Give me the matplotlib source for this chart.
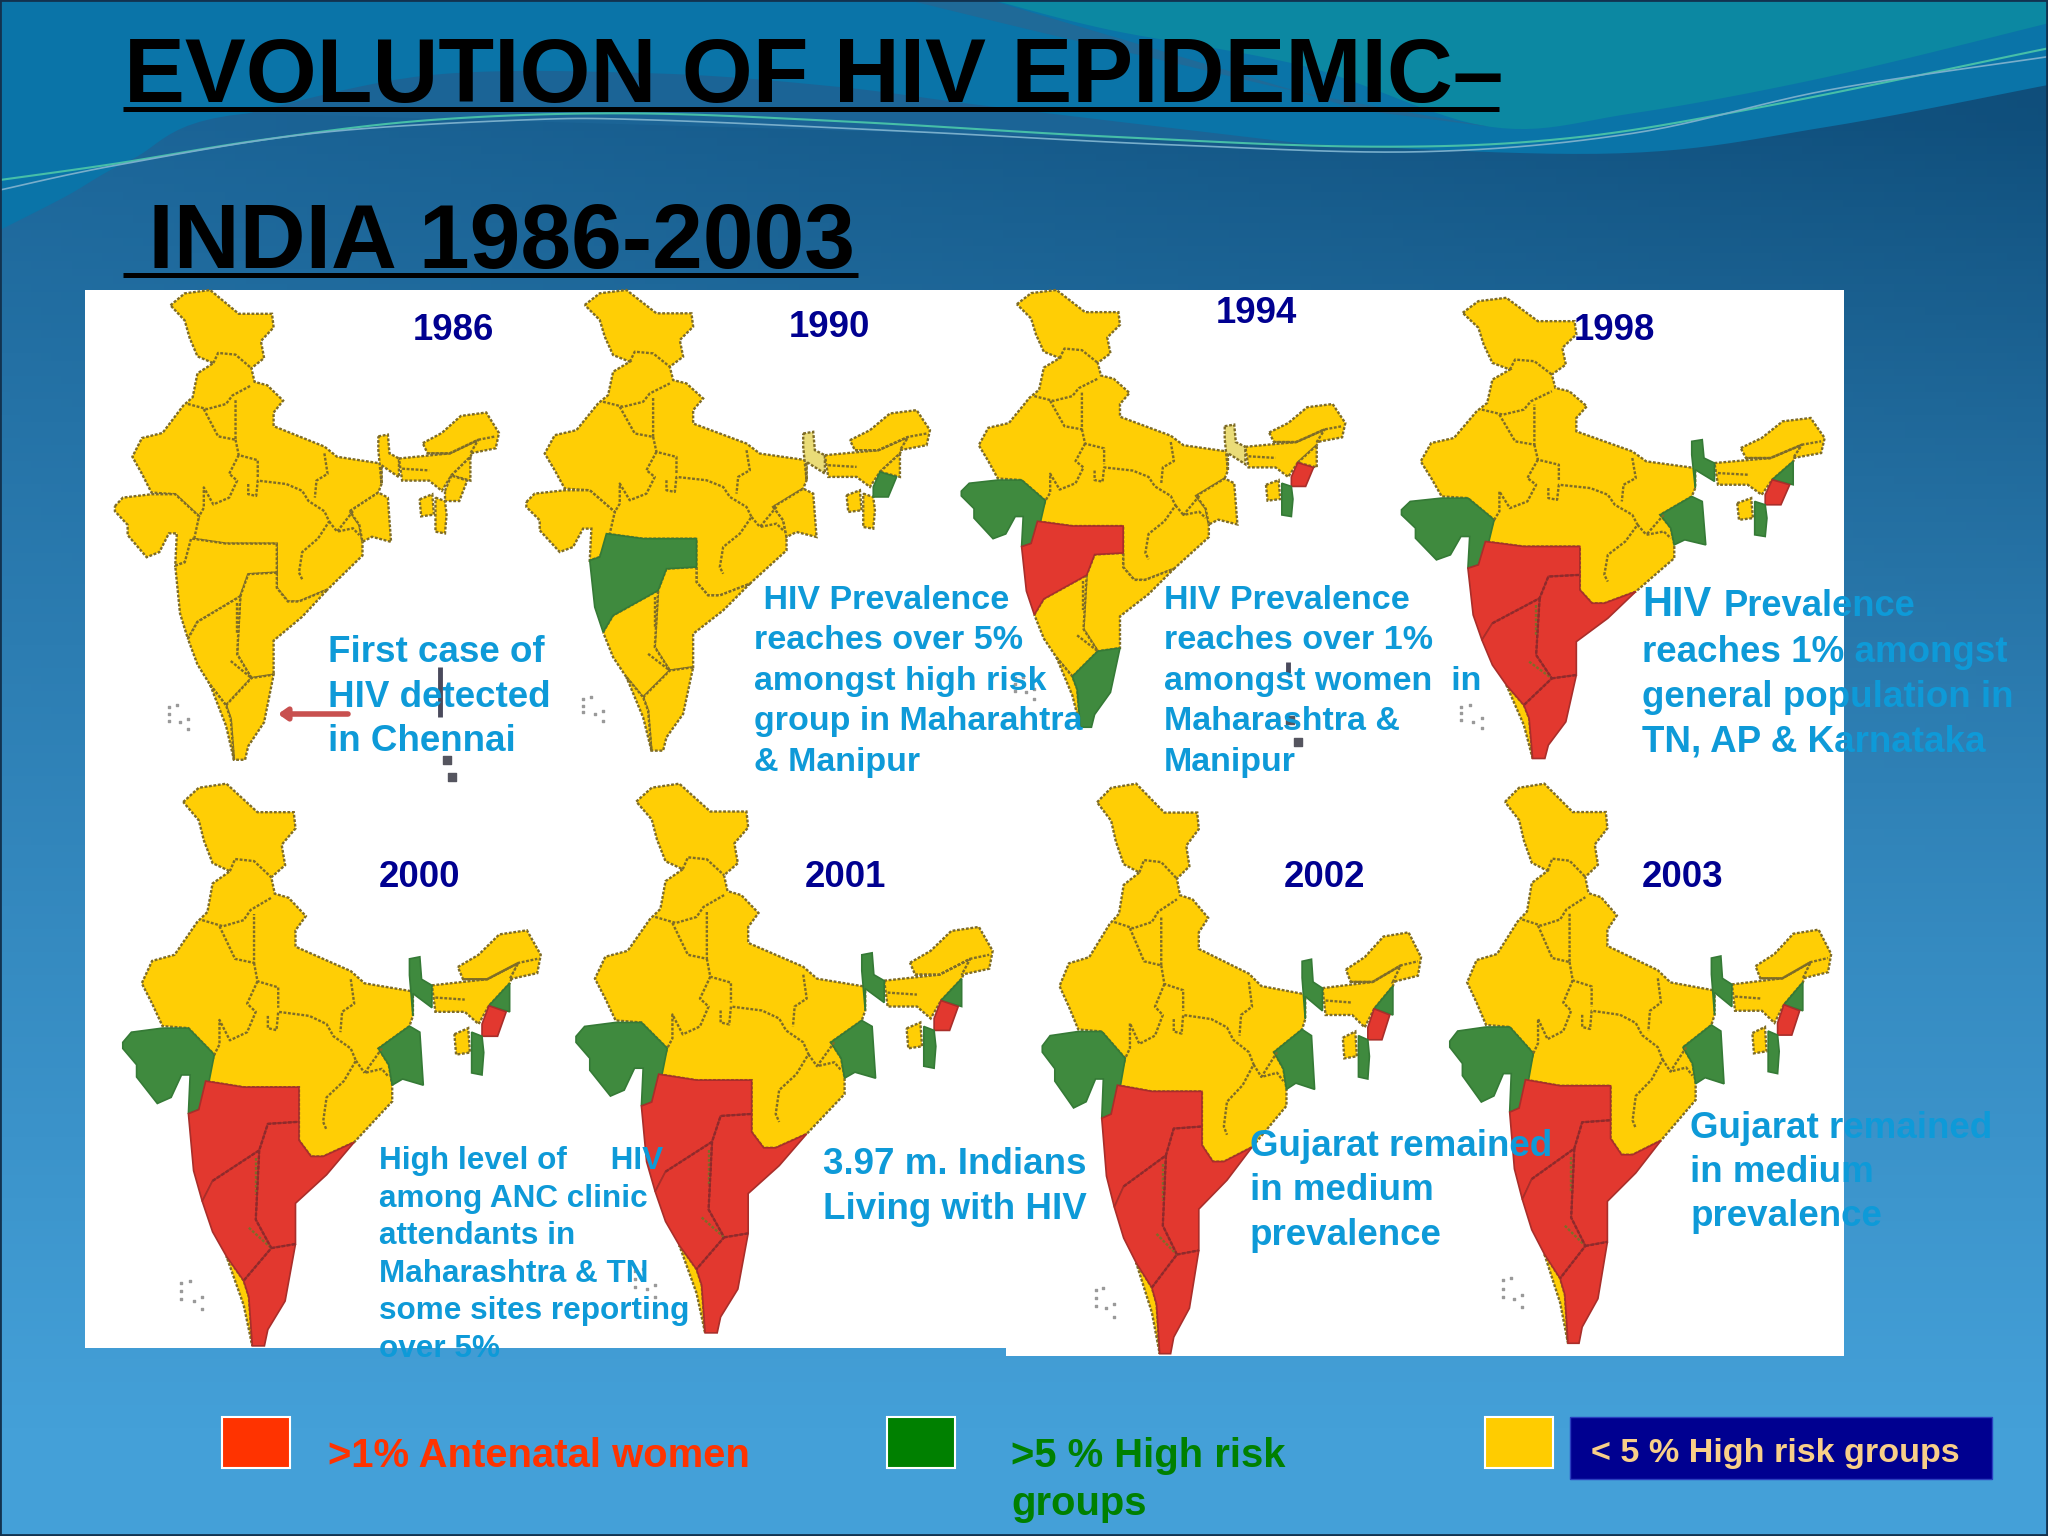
import numpy as np
import matplotlib
matplotlib.use("Agg")
import matplotlib.pyplot as plt
from matplotlib.patches import Polygon, Rectangle

plt.rcParams['font.family'] = ['Liberation Sans', 'DejaVu Sans']

# positions below are in the 1568 wide preview, S brings them to the real image
S = 2048 / 1568

YELLOW = '#FFCE05'
GREEN = '#3F8A3E'
RED = '#E2382F'
TEXT = '#0E9AD8'
NAVY = '#000090'
OUTLINE = '#7E6C28'

years = ['1986', '1990', '1994', '1998', '2000', '2001', '2002', '2003']
year_x = [316, 604, 931, 1205, 290, 616, 983, 1257]
year_y = [260, 258, 247, 260, 679, 679, 679, 679]

# x0, x1, y0, y1 of each map on the slide
map_boxes = [
    (88, 382, 222, 583), (403, 712, 222, 576), (736, 1030, 222, 558), (1073, 1397, 228, 582),
    (94, 414, 600, 1032), (441, 760, 600, 1022), (798, 1088, 600, 1038), (1110, 1402, 600, 1030),
]

region_names = ['north', 'gujarat', 'maharashtra', 'andhra', 'karnataka', 'tamil', 'kerala',
                'bengal', 'corridor', 'assam', 'arunachal', 'nagaland', 'manipur', 'mizoram', 'tripura']

# status of each region: y low, g high risk, r antenatal, p pale yellow
status_1986 = 'yyyyyyyyyyyyyyy'
status_1990 = 'yygyyyyypyyygyy'
status_1994 = 'ygryygyypyyyrgy'
status_1998 = 'ygrrrryggyygrgy'
status_2000 = 'ygrrrryggyygrgy'
status_2001 = 'ygrrrryggyygrgy'
status_2002 = 'ygrrrryggyygrgy'
status_2003 = 'ygrrrryggyygrgy'
statuses = [status_1986, status_1990, status_1994, status_1998,
            status_2000, status_2001, status_2002, status_2003]
status_colors = {'y': YELLOW, 'g': GREEN, 'r': RED, 'p': '#EADC78'}
status_edges = {'g': '#357A36', 'r': '#A92E2A'}

captions = [
    (251, 507, 34, 26.5, ['First case of', 'HIV detected', 'in Chennai']),
    (577, 466, 31, 24.5, [' HIV Prevalence', 'reaches over 5%', 'amongst high risk', 'group in Maharahtra', '& Manipur']),
    (891, 466, 31, 24.5, ['HIV Prevalence', 'reaches over 1%', 'amongst women  in', 'Maharashtra &', 'Manipur']),
    (1257, 507, 34, 26.5, ['reaches 1% amongst', 'general population in', 'TN, AP & Karnataka']),
    (290, 895, 28.8, 22.7, ['High level of     HIV', 'among ANC clinic', 'attendants in', 'Maharashtra & TN', 'some sites reporting', 'over 5%']),
    (630, 899, 34, 26.5, ['3.97 m. Indians', 'Living with HIV']),
    (957, 885, 34, 26.5, ['Gujarat remained', 'in medium', 'prevalence']),
    (1294, 871, 34, 26.5, ['Gujarat remained', 'in medium', 'prevalence']),
]

legend_labels = ['>1% Antenatal women', '>5 % High risk', 'groups', '< 5 % High risk groups']

# outline of the map, traced from the 1990 one
regions = {
    'north': [(195, 75), (240, 40), (320, 30), (410, 100), (515, 100), (520, 140), (480, 180), (490, 230),
              (450, 260), (460, 300), (500, 310), (550, 355), (520, 390), (520, 430), (680, 490), (720, 520),
              (860, 540), (860, 600), (850, 625), (760, 680), (790, 720), (800, 770), (800, 810), (690, 910),
              (600, 945), (565, 945), (530, 905), (530, 775), (370, 775), (260, 760), (285, 695), (210, 630),
              (135, 625), (105, 570), (75, 520), (105, 465), (170, 450), (235, 370), (265, 345), (280, 275),
              (330, 245), (280, 225), (255, 170), (240, 120)],
    'gujarat': [(20, 665), (45, 640), (135, 630), (210, 630), (285, 695), (270, 760), (240, 830), (210, 840),
                (215, 745), (190, 745), (160, 800), (120, 815), (60, 750), (60, 720), (20, 680)],
    'maharashtra': [(210, 840), (240, 830), (260, 760), (370, 775), (530, 775), (530, 860), (440, 865),
                    (415, 930), (280, 1005), (250, 1055), (225, 980)],
    'andhra': [(530, 860), (530, 905), (565, 945), (600, 945), (690, 910), (610, 990), (520, 1060), (520, 1160),
               (450, 1170), (405, 1100), (415, 930), (440, 865)],
    'karnataka': [(250, 1055), (280, 1005), (415, 930), (405, 1100), (450, 1170), (370, 1250), (320, 1190),
                  (280, 1130)],
    'tamil': [(370, 1250), (450, 1170), (520, 1160), (490, 1300), (440, 1370), (430, 1410), (395, 1410),
              (385, 1290)],
    'kerala': [(320, 1190), (370, 1250), (385, 1290), (395, 1410), (370, 1310)],
    'bengal': [(760, 680), (850, 625), (880, 640), (890, 770), (830, 755), (800, 770), (790, 720)],
    'corridor': [(850, 460), (880, 455), (885, 510), (915, 525), (915, 580), (860, 545), (860, 600), (850, 500)],
    'assam': [(915, 525), (1075, 510), (1165, 470), (1140, 520), (1080, 575), (1050, 620), (1010, 590), (925, 590)],
    'arunachal': [(990, 480), (1050, 450), (1110, 400), (1190, 390), (1230, 450), (1220, 495), (1140, 510),
                  (1165, 470), (1075, 510), (1005, 510)],
    'nagaland': [(1080, 575), (1140, 520), (1140, 590)],
    'manipur': [(1060, 620), (1080, 575), (1130, 590), (1105, 650), (1060, 650)],
    'mizoram': [(1030, 640), (1060, 650), (1065, 690), (1060, 745), (1030, 740)],
    'tripura': [(980, 645), (1020, 630), (1025, 690), (985, 695)],
}

borders = [
    [(330, 245), (345, 215), (400, 220), (450, 260)],
    [(250, 365), (310, 380), (370, 365), (390, 340), (450, 310)],
    [(300, 380), (345, 460), (400, 470), (400, 350)],
    [(400, 470), (410, 515), (470, 530), (470, 580)],
    [(410, 515), (380, 570), (405, 590), (380, 640), (330, 660), (300, 610), (300, 670), (285, 695)],
    [(440, 600), (440, 630), (465, 635), (470, 590), (560, 600), (610, 620), (630, 650), (680, 680), (695, 710),
     (660, 760), (610, 800), (600, 860), (610, 880)],
    [(680, 510), (690, 570), (655, 590), (650, 640)],
    [(770, 680), (720, 740), (770, 730), (790, 750)],
    [(695, 710), (720, 740)],
    [(405, 950), (405, 1040)],
    [(385, 1120), (450, 1170)],
    [(1005, 510), (1075, 510), (1165, 470), (1220, 460)],
    [(925, 555), (1010, 560)],
]

# darker state lines on the red part of the later maps
south_borders = [
    [(280, 1005), (415, 930), (440, 865), (530, 860)],
    [(415, 930), (405, 1100), (450, 1170), (370, 1250)],
    [(450, 1170), (520, 1160)],
]

islands = [(190, 1255), (215, 1250), (190, 1275), (190, 1295), (225, 1300), (250, 1290), (250, 1320)]

# specks of the Andaman islands, only visible on two maps (preview pixels)
andaman_bars = [(337, 511, 337, 549), (986, 507, 986, 515)]
andaman_x = [342, 346, 988, 994]
andaman_y = [582, 595, 551, 568]

# wave edges, in pixels of the top crop (x * 2048/1568, y / 3)
wave_edge = [(0, 690), (50, 590), (100, 480), (190, 340), (480, 340), (760, 385), (1000, 432), (1240, 460),
             (1400, 380), (1568, 255)]
dark_edge = [(190, 340), (330, 225), (500, 220), (640, 260), (760, 320), (1000, 432)]
teal_edge = [(760, 0), (850, 90), (1000, 200), (1140, 380), (1250, 340), (1400, 230), (1568, 70)]
band_edge = [(695, 0), (800, 100), (900, 190), (1000, 280), (1140, 380)]
line_a = [(0, 540), (90, 490), (200, 420), (330, 360), (480, 340), (650, 365), (850, 410), (1050, 440),
          (1200, 415), (1350, 320), (1568, 145)]
line_b = [(0, 570), (90, 495), (240, 400), (400, 360), (500, 360), (700, 395), (900, 435), (1090, 455),
          (1250, 400), (1400, 270), (1568, 170)]


def place(points, box):
    x0, x1, y0, y1 = box
    pts = np.array(points, dtype=float)
    xs = S * (x0 + (pts[:, 0] - 20) / 1210 * (x1 - x0))
    ys = S * (y0 + (pts[:, 1] - 30) / 1385 * (y1 - y0))
    return np.column_stack([xs, ys])


def smooth(points):
    # catmull-rom through the crop points, then to image pixels
    pts = np.array(points, dtype=float)
    pts = np.vstack([pts[0], pts, pts[-1]])
    out = []
    for i in range(1, len(pts) - 2):
        p0, p1, p2, p3 = pts[i - 1], pts[i], pts[i + 1], pts[i + 2]
        for u in np.linspace(0, 1, 12, endpoint=False):
            out.append(0.5 * (2 * p1 + (p2 - p0) * u + (2 * p0 - 5 * p1 + 4 * p2 - p3) * u ** 2
                              + (3 * p1 - p0 - 3 * p2 + p3) * u ** 3))
    out.append(pts[-2])
    out = np.array(out)
    return np.column_stack([out[:, 0] * S, out[:, 1] / 3])


fig = plt.figure(figsize=(20.48, 15.36), dpi=100)
ax = fig.add_axes([0, 0, 1, 1])
ax.set_xlim(0, 2048)
ax.set_ylim(1536, 0)
ax.axis('off')

# slide background, dark at top right and lighter towards the bottom
yy, xx = np.mgrid[0:1:200j, 0:1:200j]
top = np.array([0x1C, 0x66, 0x99])
corner = np.array([0x0E, 0x4C, 0x78])
bottom = np.array([0x44, 0xA0, 0xD8])
t = np.clip((yy - 0.08) / 0.85, 0, 1)[..., None]
c = np.clip(xx * (1 - yy * 1.6), 0, 1)[..., None]
bg = ((top + (corner - top) * c) * (1 - t) + bottom * t) / 255
ax.imshow(bg, extent=(0, 2048, 1536, 0), aspect='auto', zorder=0)

# wave shapes behind the title
wave = smooth(wave_edge)
ax.add_patch(Polygon(np.vstack([wave, [(2048, 0), (0, 0)]]), fc='#0A74A8', ec='none', zorder=1))
dark = smooth(dark_edge)
ax.add_patch(Polygon(dark, fc='#1B6496', ec='none', zorder=1))
teal = smooth(teal_edge)
ax.add_patch(Polygon(np.vstack([teal, [(2048, 0)]]), fc='#0C88A2', ec='none', zorder=1))
band = smooth(band_edge)
ax.add_patch(Polygon(np.vstack([band, [(1360, 110), (990, 0)]]), fc='#1F6A98', ec='none', zorder=1.1))
pa = smooth(line_a)
ax.plot(pa[:, 0], pa[:, 1], color='#46BFA8', lw=1.5, zorder=2)
pb = smooth(line_b)
ax.plot(pb[:, 0], pb[:, 1], color='#78AECB', lw=1.2, zorder=2)

# white panels the maps were pasted on
ax.add_patch(Rectangle((85, 290), 1759, 1348 - 290, fc='white', ec='none', zorder=3))
ax.add_patch(Rectangle((1006, 1348), 838, 8, fc='white', ec='none', zorder=3))

# title
ax.text(124, 102, 'EVOLUTION OF HIV EPIDEMIC–', fontsize=65.7, fontweight='bold', color='black', va='baseline', zorder=5)
ax.text(123, 268, ' INDIA 1986-2003', fontsize=65.7, fontweight='bold', color='black', va='baseline', zorder=5)
ax.plot([123, 1499], [109, 109], color='black', lw=3.6, solid_capstyle='butt', zorder=5)
ax.plot([123, 858], [275, 275], color='black', lw=3.6, solid_capstyle='butt', zorder=5)

# maps
for box, status in zip(map_boxes, statuses):
    for name, code in zip(region_names, status):
        col = status_colors[code]
        if code in 'yp':
            ax.add_patch(Polygon(place(regions[name], box), fc=col, ec=OUTLINE, lw=1.7,
                                 ls=(0, (1.2, 0.7)), zorder=4))
        else:
            ax.add_patch(Polygon(place(regions[name], box), fc=col, ec=status_edges[code], lw=1.2, zorder=4.1))
    for line in borders:
        p = place(line, box)
        ax.plot(p[:, 0], p[:, 1], color=OUTLINE, lw=1.7, ls=(0, (1.2, 0.7)), zorder=4.2)
    if status[3] == 'r':
        for line in south_borders:
            p = place(line, box)
            ax.plot(p[:, 0], p[:, 1], color='#8E2A2C', lw=1.7, ls=(0, (1.5, 0.7)), zorder=4.2)
    isl = place(islands, box)
    ax.scatter(isl[:, 0], isl[:, 1], s=4, marker='s', color='#9A9A9A', zorder=4.2)

for x0, y0, x1, y1 in andaman_bars:
    ax.plot([x0 * S, x1 * S], [y0 * S, y1 * S], color='#4A4A5C', lw=3.5, solid_capstyle='butt', zorder=4.2)
ax.scatter(np.array(andaman_x) * S, np.array(andaman_y) * S, s=28, marker='s', color='#55555F', zorder=4.2)

# arrow to Chennai on the first map
ax.annotate('', xy=(278, 714), xytext=(348, 714),
            arrowprops=dict(arrowstyle='-|>,head_length=0.5,head_width=0.35', color='#C8504F', lw=4,
                            shrinkA=0, shrinkB=0), zorder=6)

for label, x, y in zip(years, year_x, year_y):
    ax.text(x * S, y * S, label, fontsize=26.4, fontweight='bold', color=NAVY, va='baseline', zorder=6)

for x, y, step, size, lines in captions:
    for i, line in enumerate(lines):
        ax.text(x * S, (y + i * step) * S, line, fontsize=size, fontweight='bold', color=TEXT,
                va='baseline', zorder=6)

# the 1998 caption starts with a bigger HIV
ax.text(1257 * S, 472 * S, 'HIV', fontsize=30, fontweight='bold', color=TEXT, va='baseline', zorder=6)
ax.text(1320 * S, 472 * S, 'Prevalence', fontsize=26.2, fontweight='bold', color=TEXT, va='baseline', zorder=6)

# legend
for x, col in zip([170, 679, 1137], ['#FF3300', '#008000', '#FFCC00']):
    ax.add_patch(Rectangle((x * S, 1085 * S), 52 * S, 39 * S, fc=col, ec='white', lw=1.5, zorder=5))
ax.add_patch(Rectangle((1202 * S, 1085 * S), 323 * S, 47 * S, fc='#000090', ec='#2A3FC0', lw=1, zorder=5))
ax.text(251 * S, 1123 * S, legend_labels[0], fontsize=28.8, fontweight='bold', color='#FF3300', va='baseline', zorder=6)
ax.text(774 * S, 1123 * S, legend_labels[1], fontsize=28.8, fontweight='bold', color='#008000', va='baseline', zorder=6)
ax.text(774 * S, 1160 * S, legend_labels[2], fontsize=28.8, fontweight='bold', color='#008000', va='baseline', zorder=6)
ax.text(1218 * S, 1119 * S, legend_labels[3], fontsize=24.6, fontweight='bold', color='#F8CF88', va='baseline', zorder=6)

# thin frame of the slide
ax.add_patch(Rectangle((0, 0), 2047, 1535, fc='none', ec='#12324F', lw=2, zorder=7))

fig.savefig('out.png', dpi=100)
